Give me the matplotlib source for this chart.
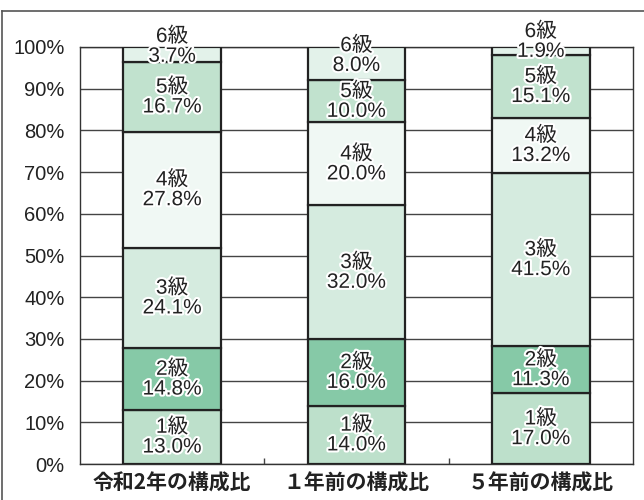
#!/usr/bin/env python3
"""
Stacked composition chart (1級-6級)
"""

import numpy as np
import matplotlib
matplotlib.use("Agg")
import matplotlib.pyplot as plt
import matplotlib.patheffects as pe
from matplotlib.lines import Line2D

categories = ["令和2年の構成比", "１年前の構成比", "５年前の構成比"]
grades = ["1級", "2級", "3級", "4級", "5級", "6級"]
# shares per grade, one value per category
share_1 = [13.0, 14.0, 17.0]
share_2 = [14.8, 16.0, 11.3]
share_3 = [24.1, 32.0, 41.5]
share_4 = [27.8, 20.0, 13.2]
share_5 = [16.7, 10.0, 15.1]
share_6 = [3.7, 8.0, 1.9]
yticks = [0, 10, 20, 30, 40, 50, 60, 70, 80, 90, 100]

colors = ["#bde0cb", "#86c9a7", "#d5ebdf", "#f0f8f4", "#c1e2ce", "#e3f2ea"]


def main():
    """
    draw the chart
    """
    plt.rcParams['font.family'] = ['Liberation Sans', 'Noto Sans CJK JP', 'DejaVu Sans']
    fig = plt.figure(figsize=(6.44, 5.0), dpi=100)
    ax = fig.add_axes([80 / 644, 1 - 464 / 500, 553 / 644, 417 / 500])

    shares = [share_1, share_2, share_3, share_4, share_5, share_6]
    x = np.arange(len(categories))
    bottom = np.zeros(len(categories))
    stroke = [pe.withStroke(linewidth=3, foreground="white")]
    for grade, vals, col in zip(grades, shares, colors):
        vals = np.array(vals)
        ax.bar(x, vals, width=0.53, bottom=bottom, color=col,
               edgecolor="#222222", linewidth=1.6, zorder=3)
        for xi, b, v in zip(x, bottom, vals):
            top = min(b + v, 100)
            mid = (b + top) / 2
            # tiny top slices get their label nudged upward
            dy = 0
            if grade == "6級" and v < 9:
                dy = 6 if v > 3 else 7
            ax.annotate(f"{grade}\n{v:.1f}%", (xi, mid), xytext=(0, dy),
                        textcoords="offset points", ha="center", va="center",
                        fontsize=15, color="#222222", linespacing=1.05,
                        path_effects=stroke, zorder=5)
        bottom = bottom + vals

    ax.set_xlim(-0.5, 2.5)
    ax.set_ylim(0, 100)
    ax.set_yticks(yticks)
    ax.set_yticklabels([f"{t}%" for t in yticks])
    ax.yaxis.grid(True, color="#444444", linewidth=1.0, zorder=0)
    ax.set_axisbelow(True)
    ax.tick_params(axis="y", length=0, pad=11, labelsize=14.5, colors="#222222")

    ax.set_xticks(x)
    ax.set_xticklabels(categories, fontweight="bold", fontsize=15,
                       family=['Noto Sans CJK JP', 'DejaVu Sans'])
    ax.tick_params(axis="x", length=0, pad=6, colors="#222222")
    ax.set_xticks([0.5, 1.5], minor=True)
    ax.tick_params(axis="x", which="minor", direction="in", length=4,
                   width=1, color="#444444")

    for sp in ax.spines.values():
        sp.set_color("#333333")
        sp.set_linewidth(1.0)

    # outer frame
    fig.add_artist(Line2D([1.5 / 644, 1], [1 - 11 / 500, 1 - 11 / 500],
                          color="#555555", linewidth=1.2))
    fig.add_artist(Line2D([1.5 / 644, 1.5 / 644], [0, 1 - 11 / 500],
                          color="#555555", linewidth=1.2))

    fig.savefig("out.png", dpi=100)


if __name__ == "__main__":
    main()
